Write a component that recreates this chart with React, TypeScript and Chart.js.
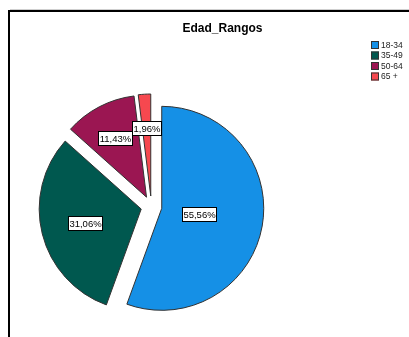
import React, { useEffect, useRef } from 'react';
import { Chart, registerables } from 'chart.js';
Chart.register(...registerables);

const categories = ['18-34', '35-49', '50-64', '65 +'];
const percentages = [55.56, 31.06, 11.43, 1.96];
const sliceColors = ['#1590e6', '#00584f', '#9b1652', '#f6484f'];
const chartTitle = 'Edad_Rangos';

const FONT = "Arial, 'Liberation Sans', sans-serif";
const fmt = (v: number) => v.toFixed(2).replace('.', ',') + '%';
const EXPLODE = 10.5; // every slice pulled out from the centre by this many px
const PIE_RADIUS = 102;

const decorPlugin = {
  id: 'decor',
  beforeDraw(chart: any) {
    const ctx = chart.ctx;
    ctx.save();
    ctx.fillStyle = '#fff';
    ctx.fillRect(0, 0, chart.width, chart.height);
    ctx.fillStyle = '#cfcfcf';
    ctx.fillRect(10, 9, chart.width, 1);
    ctx.fillStyle = '#000';
    ctx.fillRect(8, 10, chart.width, 2);
    ctx.fillRect(8, 10, 2, chart.height);
    ctx.font = `bold 12px ${FONT}`;
    ctx.textAlign = 'center';
    ctx.textBaseline = 'middle';
    ctx.fillStyle = '#000';
    ctx.fillText(chartTitle, 222.5, 29);
    // legend
    ctx.textAlign = 'left';
    ctx.font = `8.5px ${FONT}`;
    categories.forEach((c, i) => {
      const y = 41 + i * 10.5;
      ctx.fillStyle = sliceColors[i];
      ctx.fillRect(371, y, 8, 8);
      ctx.strokeStyle = '#333';
      ctx.lineWidth = 1;
      ctx.strokeRect(371.5, y + 0.5, 7, 7);
      ctx.fillStyle = '#222';
      ctx.fillText(c, 381, y + 4.5);
    });
    ctx.restore();
  },
  beforeDatasetDraw(chart: any, args: any) {
    const meta = chart.getDatasetMeta(args.index);
    const ctx = chart.ctx;
    meta.data.forEach((arc: any) => {
      const { startAngle, endAngle } = arc.getProps(['startAngle', 'endAngle'], true);
      const mid = (startAngle + endAngle) / 2;
      ctx.save();
      ctx.translate(Math.cos(mid) * EXPLODE, Math.sin(mid) * EXPLODE);
      arc.draw(ctx);
      ctx.restore();
    });
    return false;
  },
  afterDatasetsDraw(chart: any) {
    const ctx = chart.ctx;
    const meta = chart.getDatasetMeta(0);
    ctx.save();
    ctx.font = `9.5px ${FONT}`;
    ctx.textAlign = 'center';
    ctx.textBaseline = 'middle';
    const order = meta.data.map((_: any, i: number) => i).reverse();
    order.forEach((i: number) => {
      const arc = meta.data[i];
      const { x, y, startAngle, endAngle, outerRadius } = arc.getProps(['x', 'y', 'startAngle', 'endAngle', 'outerRadius'], true);
      const mid = (startAngle + endAngle) / 2;
      const half = (endAngle - startAngle) / 2;
      const dist = (2 / 3) * outerRadius * Math.sin(half) / half;
      const px = x + Math.cos(mid) * (dist + EXPLODE);
      const py = y + Math.sin(mid) * (dist + EXPLODE);
      const text = fmt(percentages[i]);
      const tw = ctx.measureText(text).width;
      const w = Math.round(tw + 3);
      const h = 15;
      const bx = Math.round(px - w / 2);
      const by = Math.round(py - h / 2);
      ctx.fillStyle = '#fff';
      ctx.fillRect(bx, by, w, h);
      ctx.strokeStyle = '#000';
      ctx.lineWidth = 1;
      ctx.strokeRect(bx + 0.5, by + 0.5, w - 1, h - 1);
      ctx.fillStyle = '#000';
      ctx.fillText(text, bx + w / 2, by + h / 2 + 0.5);
    });
    ctx.restore();
  },
};

export default function App() {
  const ref = useRef<HTMLCanvasElement>(null);
  useEffect(() => {
    if (!ref.current) return;
    const chart = new Chart(ref.current, {
      type: 'pie',
      data: {
        labels: categories,
        datasets: [
          {
            data: percentages,
            backgroundColor: sliceColors,
            borderColor: '#333',
            borderWidth: 1,
          },
        ],
      },
      options: {
        responsive: false,
        animation: false,
        events: [],
        radius: PIE_RADIUS,
        layout: { padding: { left: 20, right: 126.2, top: 86, bottom: 10 } },
        plugins: {
          legend: { display: false },
          title: { display: false },
          tooltip: { enabled: false },
        },
      } as any,
      plugins: [decorPlugin],
    });
    return () => chart.destroy();
  }, []);
  return (
    <div style={{ position: 'absolute', left: 0, top: 0, width: 409, height: 337, background: '#fff' }}>
      <canvas ref={ref} width={409} height={337} style={{ display: 'block' }} />
    </div>
  );
}
